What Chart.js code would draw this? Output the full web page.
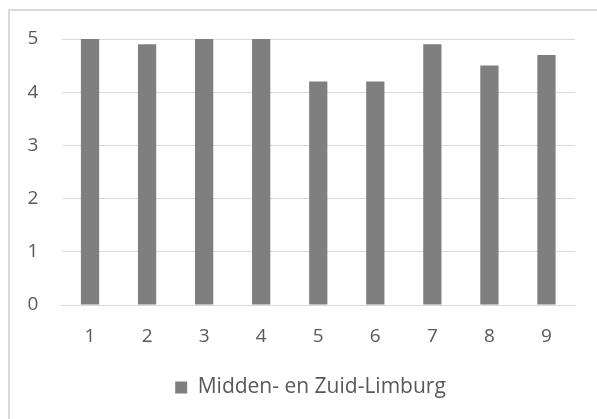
<!DOCTYPE html>
<html>
<head>
<meta charset="utf-8">
<script src="https://cdn.jsdelivr.net/npm/chart.js@4"></script>
<style>
  html, body { margin: 0; padding: 0; background: #fff; }
  #wrap { position: absolute; left: 0; top: 0; width: 597px; height: 419px; }
  #frame { position: absolute; left: 8px; top: 9px; width: 600px; height: 420px;
           border-left: 2px solid #d9d9d9; border-top: 2px solid #d9d9d9; }
  canvas { position: absolute; left: 0; top: 0; }
</style>
</head>
<body>
<div id="wrap">
  <div id="frame"></div>
  <canvas id="chart" width="597" height="419"></canvas>
</div>
<script>
// waarden uit de grafiek
const categories = ['1', '2', '3', '4', '5', '6', '7', '8', '9'];
const seriesName = 'Midden- en Zuid-Limburg';
const seriesValues = [5, 4.9, 5, 5, 4.2, 4.2, 4.9, 4.5, 4.7];
const yTicks = [0, 1, 2, 3, 4, 5];

const textColor = '#595959';
const gridColor = '#d9d9d9';
const barColor = '#7f7f7f';
const font = { family: '"Open Sans", Lato, sans-serif', size: 19 };
const legendFont = { family: '"Open Sans", Lato, sans-serif', size: 21 };

new Chart(document.getElementById('chart'), {
  type: 'bar',
  data: {
    labels: categories,
    datasets: [{
      label: seriesName,
      data: seriesValues,
      backgroundColor: barColor,
      borderWidth: 0,
      categoryPercentage: 1,
      barPercentage: 0.32,
    }],
  },
  options: {
    responsive: false,
    animation: false,
    // links extra ruimte zodat de legenda net als in het origineel iets rechts van het midden staat
    layout: { padding: { top: 39, right: 22, left: 46, bottom: 11 } },
    plugins: {
      tooltip: { enabled: false },
      legend: {
        position: 'bottom',
        labels: {
          color: textColor,
          font: legendFont,
          boxWidth: 12,
          boxHeight: 12,
          padding: 10,
        },
      },
    },
    scales: {
      x: {
        grid: { display: false },
        border: { display: true, color: gridColor, width: 1 },
        ticks: { color: textColor, font: font, padding: 12 },
        afterFit: s => { s.height = 62; },
      },
      y: {
        min: 0,
        max: 5,
        afterBuildTicks: s => { s.ticks = yTicks.map(v => ({ value: v })); },
        grid: { color: gridColor, drawTicks: false },
        border: { display: false },
        // mirror: labels worden dan niet afgeknipt door de smalle as
        ticks: { color: textColor, font: font, mirror: true, padding: -34 },
        afterFit: s => { s.width = 15.5; },
      },
    },
  },
});
</script>
</body>
</html>
